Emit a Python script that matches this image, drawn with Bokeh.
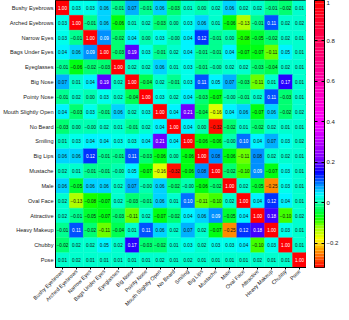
import math
import colorsys
import numpy as np
from bokeh.plotting import figure
from bokeh.layouts import row
from bokeh.models import (ColumnDataSource, LinearColorMapper, FixedTicker, FactorRange, Range1d,
                          LinearAxis, CustomJSTickFormatter)
from bokeh.transform import transform
from bokeh.core.properties import value
from bokeh.embed import file_html
from bokeh.resources import INLINE

labels = ["Bushy Eyebrows", "Arched Eyebrows", "Narrow Eyes", "Bags Under Eyes", "Eyeglasses",
          "Big Nose", "Pointy Nose", "Mouth Slightly Open", "No Beard", "Smiling", "Big Lips",
          "Mustache", "Male", "Oval Face", "Attractive", "Heavy Makeup", "Chubby", "Pose"]

r_bushy = [1.00, 0.03, 0.03, 0.06, -0.01, 0.07, -0.01, 0.06, -0.03, 0.01, 0.00, 0.02, 0.06, 0.02, 0.02, -0.01, -0.02, 0.01]
r_arched = [0.03, 1.00, -0.01, 0.06, -0.06, 0.01, 0.02, -0.03, 0.00, 0.03, 0.06, 0.01, -0.06, -0.13, -0.01, 0.11, 0.02, 0.02]
r_narrow = [0.03, -0.01, 1.00, 0.09, -0.02, 0.04, 0.00, 0.03, -0.001, 0.04, 0.12, -0.01, 0.00, -0.08, -0.05, -0.02, 0.02, 0.01]
r_bags = [0.04, 0.06, 0.09, 1.00, -0.03, 0.19, 0.03, -0.01, 0.02, 0.04, -0.01, -0.01, 0.04, -0.07, -0.07, -0.11, 0.05, 0.01]
r_glasses = [-0.01, -0.06, -0.02, -0.03, 1.00, 0.02, 0.02, 0.06, 0.01, 0.03, -0.01, -0.001, 0.02, 0.02, -0.03, -0.04, 0.02, 0.01]
r_bignose = [0.07, 0.01, 0.04, 0.19, 0.02, 1.00, -0.04, 0.02, -0.01, 0.03, 0.11, 0.05, 0.07, -0.03, -0.11, 0.01, 0.17, 0.01]
r_pointy = [-0.01, 0.02, 0.00, 0.03, 0.02, -0.04, 1.00, 0.03, 0.02, 0.04, -0.03, -0.07, -0.001, -0.01, 0.02, 0.11, -0.03, 0.01]
r_mouth = [0.04, -0.03, 0.03, -0.01, 0.06, 0.02, 0.03, 1.00, 0.04, 0.21, -0.04, -0.16, 0.04, 0.06, -0.07, 0.06, -0.02, 0.02]
r_nobeard = [-0.03, 0.00, -0.001, 0.02, 0.01, -0.01, 0.02, 0.04, 1.00, 0.04, 0.00, -0.32, -0.02, 0.01, -0.02, 0.02, 0.01, 0.01]
r_smiling = [0.01, 0.03, 0.04, 0.04, 0.03, 0.03, 0.04, 0.21, 0.04, 1.00, -0.06, -0.06, -0.001, 0.10, 0.04, 0.07, 0.03, 0.02]
r_biglips = [0.06, 0.06, 0.12, -0.01, -0.01, 0.11, -0.03, -0.06, 0.00, -0.06, 1.00, 0.08, -0.06, -0.11, 0.08, 0.02, 0.02, 0.01]
r_mustache = [0.02, 0.01, -0.01, -0.01, -0.001, 0.05, -0.07, -0.16, -0.32, -0.06, 0.08, 1.00, -0.02, -0.10, 0.09, -0.07, 0.03, 0.01]
r_male = [0.06, -0.05, 0.06, 0.06, 0.02, 0.07, -0.001, 0.06, -0.02, -0.001, -0.06, -0.02, 1.00, 0.02, -0.05, -0.25, 0.03, 0.01]
r_oval = [0.02, -0.13, -0.08, -0.07, 0.02, -0.03, -0.01, 0.06, 0.01, 0.10, -0.11, -0.10, 0.02, 1.00, 0.04, 0.12, 0.04, 0.01]
r_attractive = [0.02, -0.01, -0.05, -0.07, -0.03, -0.11, 0.02, -0.07, -0.02, 0.04, 0.06, 0.09, -0.05, 0.04, 1.00, 0.18, -0.10, 0.02]
r_makeup = [-0.01, 0.11, -0.02, -0.11, -0.04, 0.01, 0.11, 0.06, 0.02, 0.07, 0.02, -0.07, -0.25, 0.12, 0.18, 1.00, 0.03, 0.01]
r_chubby = [-0.02, 0.02, 0.02, 0.05, 0.02, 0.17, -0.03, -0.02, 0.01, 0.03, 0.02, 0.03, 0.03, 0.04, -0.10, 0.03, 1.00, 0.01]
r_pose = [0.01, 0.02, 0.01, 0.01, 0.01, 0.01, 0.01, 0.02, 0.01, 0.02, 0.01, 0.01, 0.01, 0.01, 0.02, 0.01, 0.01, 1.00]

rows = [r_bushy, r_arched, r_narrow, r_bags, r_glasses, r_bignose, r_pointy, r_mouth, r_nobeard,
        r_smiling, r_biglips, r_mustache, r_male, r_oval, r_attractive, r_makeup, r_chubby, r_pose]

cbar_ticks = [-0.2, 0, 0.2, 0.4, 0.6, 0.8, 1]
LOW, HIGH = -0.32, 1.0

# colormap (hue ramp, compressed around zero)
anchor_vals = [-0.32, -0.25, -0.18, -0.12, -0.07, 0.0, 0.04, 0.08, 0.13, 0.18, 0.22, 0.4, 0.7, 1.0]
anchor_hues = [0, 30, 60, 85, 122, 160, 180, 203, 230, 255, 270, 300, 330, 360]
NLEV = 96
levels = np.linspace(LOW, HIGH, NLEV + 1)
palette = []
for lv in (levels[:-1] + levels[1:]) / 2:
    h = (np.interp(lv, anchor_vals, anchor_hues) / 360.0) % 1.0
    r, g, b = colorsys.hsv_to_rgb(h, 1, 1)
    palette.append("#%02x%02x%02x" % (round(r * 255), round(g * 255), round(b * 255)))
mapper = LinearColorMapper(palette=palette, low=LOW, high=HIGH)

xs, ys, vs, txt, tcol = [], [], [], [], []
for i, rname in enumerate(labels):
    for j, cname in enumerate(labels):
        v = rows[i][j]
        xs.append(cname)
        ys.append(rname)
        vs.append(v)
        txt.append(f"{v:.2f}".replace("-", "\u2212"))
        tcol.append("white" if v >= 0.09 else "#111111")
src = ColumnDataSource(dict(x=xs, y=ys, v=vs, t=txt, tc=tcol))

FONT = "Liberation Sans"
H = 312
XFS = "5.4px"

p = figure(width=306, height=H, x_range=FactorRange(factors=labels),
           y_range=FactorRange(factors=list(reversed(labels))),
           output_backend="svg", toolbar_location=None,
           min_border_left=45, min_border_right=0, min_border_top=0, min_border_bottom=30)

p.rect(x="x", y="y", width=1, height=1, source=src,
       fill_color=transform("v", mapper), line_color=transform("v", mapper), line_width=0.4)
p.text(x="x", y="y", text="t", text_color="tc", source=src, text_font_size="4.6px",
       text_align="center", text_baseline="middle", text_font=value(FONT))

p.grid.grid_line_color = None
p.outline_line_color = "black"
p.axis.axis_line_color = "black"
p.axis.major_label_text_font = FONT
p.axis.major_label_text_color = "#222222"
p.yaxis.major_label_text_font_size = "5.6px"
p.yaxis.major_tick_out = 0
p.yaxis.major_tick_in = 0
p.yaxis.major_label_standoff = 2
p.xaxis.major_label_text_font_size = XFS
p.xaxis.major_label_orientation = math.pi / 4
p.xaxis.major_tick_out = 2
p.xaxis.major_tick_in = 0
p.xaxis.major_label_standoff = 1

# colour bar as its own small figure; its (invisible) bottom axis mirrors the heatmap's so the frames align
cb = figure(width=35, height=H, x_range=FactorRange(factors=labels), y_range=Range1d(LOW, HIGH),
            output_backend="svg", toolbar_location=None,
            min_border_left=8, min_border_right=16, min_border_top=0, min_border_bottom=30)
cb.quad(left=0, right=len(labels), bottom=levels[:-1], top=levels[1:], fill_color=palette, line_color=None)
cb.grid.grid_line_color = None
cb.outline_line_color = "black"
cb.xaxis.major_label_text_font = FONT
cb.xaxis.major_label_text_font_size = XFS
cb.xaxis.major_label_orientation = math.pi / 4
cb.xaxis.major_label_text_alpha = 0
cb.xaxis.major_tick_out = 2
cb.xaxis.major_tick_in = 0
cb.xaxis.major_tick_line_alpha = 0
cb.xaxis.major_label_standoff = 1
cb.xaxis.axis_line_color = None
cb.yaxis.ticker = FixedTicker(ticks=cbar_ticks, minor_ticks=[])
cb.yaxis.major_label_text_font_size = "0px"
cb.yaxis.major_label_standoff = 0
cb.yaxis.major_tick_in = 3
cb.yaxis.major_tick_out = 0
cb.yaxis.axis_line_color = "black"
ax_r = LinearAxis(ticker=FixedTicker(ticks=cbar_ticks, minor_ticks=[]),
                  formatter=CustomJSTickFormatter(code="return tick < 0 ? '\\u2212' + (-tick) : String(tick);"),
                  major_tick_in=3, major_tick_out=0, major_label_standoff=2,
                  major_label_text_font=FONT, major_label_text_font_size="6px",
                  major_label_text_color="#222222", axis_line_color="black")
cb.add_layout(ax_r, "right")

layout = row(p, cb)
open("out.html", "w").write(file_html(layout, INLINE))
